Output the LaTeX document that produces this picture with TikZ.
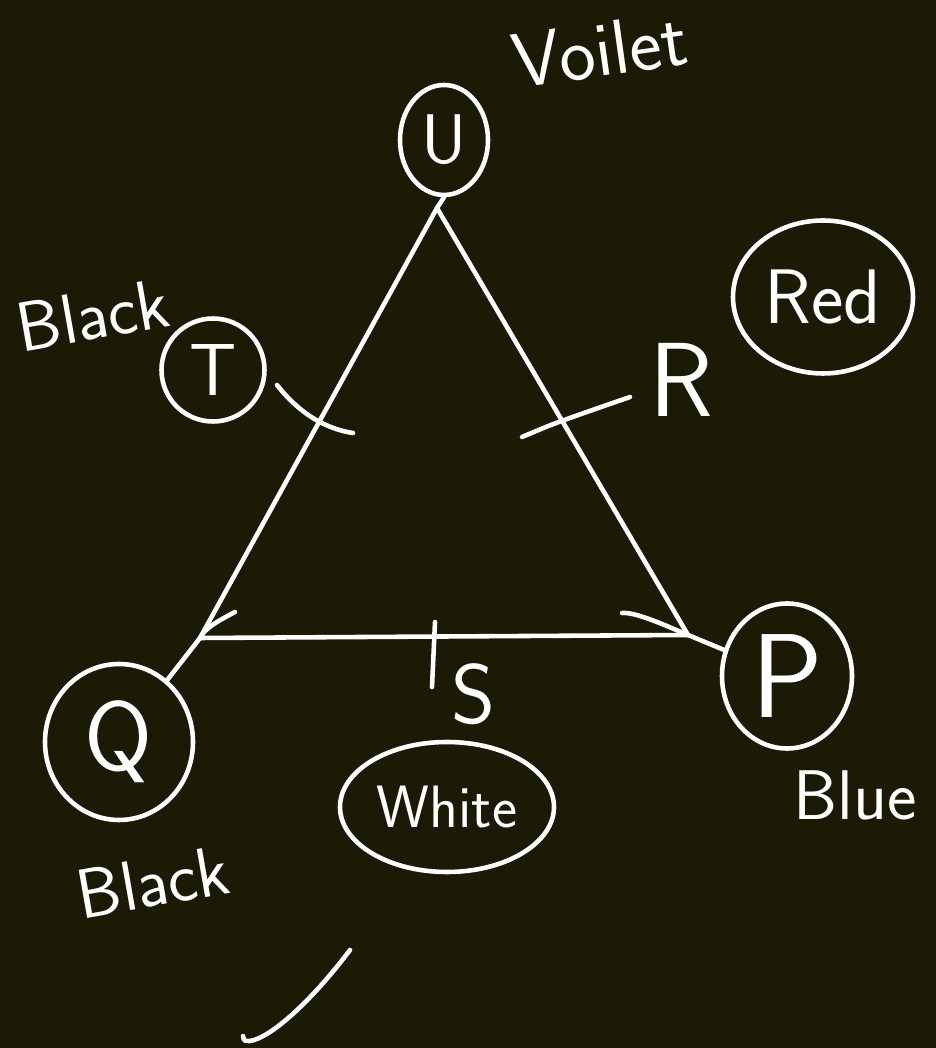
\documentclass[tikz,border=0pt]{standalone}
\usepackage{fontspec}
\usepackage{tikz}
\usetikzlibrary{shapes.geometric}
\renewcommand{\familydefault}{\sfdefault}
\definecolor{board}{HTML}{1B1A05}
\definecolor{chalk}{HTML}{FFFFFF}
\tikzset{
  % tavla
  ring/.style={ellipse,draw=chalk,line width=1.3pt,inner sep=0pt,
               label={[text=chalk,inner sep=0pt]center:#1}},
  hl/.style={draw=chalk,line width=1.3pt,line cap=round,line join=round},
  lbl/.style={text=chalk,inner sep=0pt},
}

\begin{document}
\begin{tikzpicture}
\useasboundingbox (0,0) rectangle (9.36,10.48);
\fill[board] (0,0) rectangle (9.36,10.48);
  % hörn
  \coordinate (apex) at (4.37,8.40);
  \coordinate (lc) at (2.00,4.10);
  \coordinate (rc) at (6.88,4.13);
  % ringar
  \node[ring={\fontsize{20}{22}\selectfont U},minimum width=8.8mm,minimum height=11mm] (U) at (4.44,9.08) {};
  \node[ring={\fontsize{21}{23}\selectfont T},minimum size=10.3mm] (T) at (2.13,6.78) {};
  \node[ring={\fontsize{28}{30}\selectfont Q},minimum width=14.8mm,minimum height=15.6mm] (Q) at (1.19,3.06) {};
  \node[ring={\fontsize{34}{36}\selectfont P},minimum width=13mm,minimum height=14.5mm] (P) at (7.87,3.72) {};
  \node[ring={\fontsize{22}{24}\selectfont Red},minimum width=18mm,minimum height=15.3mm] (red) at (8.23,7.51) {};
  \node[ring={\fontsize{17}{19}\selectfont White},minimum width=21.4mm,minimum height=13mm] (white) at (4.47,2.41) {};
  % texter
  \node[lbl,rotate=8,font=\fontsize{22}{24}\selectfont] (violet) at (6.00,9.98) {Voilet};
  \node[lbl,rotate=10,font=\fontsize{20}{22}\selectfont] (blackT) at (0.93,7.33) {Black};
  \node[lbl,rotate=10,font=\fontsize{20}{22}\selectfont] (blackQ) at (1.53,1.66) {Black};
  \node[lbl,font=\fontsize{20}{22}\selectfont] (blue) at (8.55,2.53) {Blue};
  \node[lbl,font=\fontsize{30}{32}\selectfont] (R) at (6.81,6.68) {R};
  \node[lbl,font=\fontsize{24}{26}\selectfont] (S) at (4.74,3.54) {S};
  % triangel
  \draw[hl] (U.south) -- (apex);
  \draw[hl] (apex) -- (lc) -- (rc) -- cycle;
  \draw[hl] (lc) -- (Q);
  \draw[hl] (rc) -- (P);
  \coordinate (lb) at (2.35,4.36);
  \coordinate (rb) at (6.22,4.35);
  \draw[hl] (lb) .. controls (2.18,4.27) and (2.05,4.20) .. (lc);
  \draw[hl] (rb) .. controls (6.35,4.36) and (6.60,4.25) .. (rc);
  % streck
  \coordinate (ta) at (2.77,6.63);
  \coordinate (tb) at (3.53,6.15);
  \coordinate (ra) at (5.22,6.11);
  \coordinate (rb2) at (6.30,6.51);
  \coordinate (sa) at (4.35,4.26);
  \coordinate (sb) at (4.32,3.61);
  \draw[hl] (ta) .. controls (2.95,6.40) and (3.20,6.20) .. (tb);
  \draw[hl] (ra) .. controls (5.55,6.25) .. (rb2);
  \draw[hl] (sa) -- (sb);
  % bock
  \coordinate (ck) at (3.50,0.98);
  \coordinate (ckend) at (2.43,0.12);
  \draw[hl] (ck) .. controls (3.10,0.45) and (2.70,0.10) .. (2.50,0.07) .. controls (2.44,0.07) .. (ckend);
\end{tikzpicture}
\end{document}
